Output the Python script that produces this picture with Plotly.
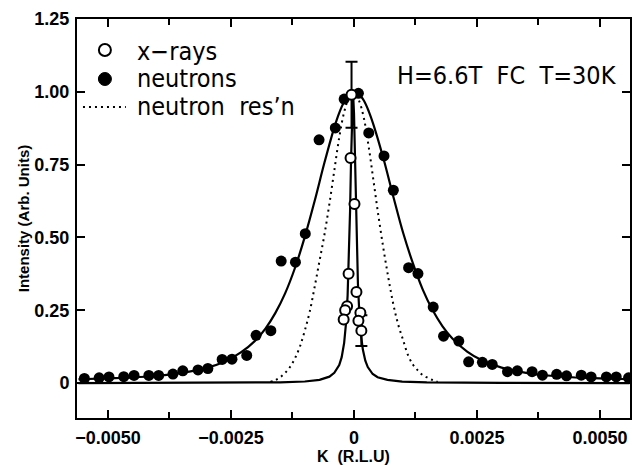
import plotly.graph_objects as go

# ---------------- data ----------------
neutron_k = [-0.00548, -0.00518, -0.00498, -0.00468, -0.00447, -0.00417, -0.00397,
             -0.00368, -0.00348, -0.00317, -0.00297, -0.00268, -0.00248, -0.00218,
             -0.00199, -0.00169, -0.00148, -0.00119, -0.00099, -0.00071, -0.00038,
             -0.00020, 0.00009, 0.00030, 0.00061, 0.00080, 0.00111, 0.00130, 0.00161,
             0.00182, 0.00213, 0.00233, 0.00261, 0.00281, 0.00312, 0.00332, 0.00362,
             0.00383, 0.00412, 0.00432, 0.00462, 0.00482, 0.00513, 0.00533, 0.00558]
neutron_i = [0.016, 0.018, 0.021, 0.022, 0.026, 0.026, 0.026,
             0.031, 0.042, 0.045, 0.050, 0.081, 0.082, 0.095,
             0.164, 0.180, 0.419, 0.415, 0.513, 0.835, 0.876,
             0.975, 0.995, 0.859, 0.780, 0.662, 0.396, 0.376, 0.261,
             0.161, 0.144, 0.073, 0.071, 0.064, 0.039, 0.042, 0.039,
             0.027, 0.030, 0.025, 0.027, 0.021, 0.021, 0.021, 0.018]

xray_k = [-0.00005, -0.00007, 0.00001, -0.00011, 0.00005, -0.00014, -0.00018,
          0.00013, -0.00021, 0.00009, 0.00015]
xray_i = [0.990, 0.773, 0.615, 0.375, 0.313, 0.264, 0.250,
          0.241, 0.218, 0.214, 0.180]
xray_err = [0.113, None, None, None, None, None, None, None, None, None, 0.053]

# neutron fit curve (solid)
nfit_k = [-0.0056, -0.0050, -0.0045, -0.0040, -0.0035, -0.0030, -0.0026, -0.0023,
          -0.0020, -0.0018, -0.0016, -0.0014, -0.0012, -0.0010, -0.0008, -0.0006,
          -0.0004, -0.0003, -0.0002, -0.0001, 0.0, 0.0001, 0.0002, 0.0003, 0.0004,
          0.0006, 0.0008, 0.0010, 0.0012, 0.0014, 0.0016, 0.0018, 0.0020, 0.0023,
          0.0026, 0.0030, 0.0035, 0.0040, 0.0045, 0.0050, 0.0056]
nfit_i = [0.013, 0.016, 0.019, 0.025, 0.035, 0.052, 0.076, 0.105,
          0.147, 0.187, 0.240, 0.308, 0.395, 0.502, 0.625, 0.757,
          0.878, 0.928, 0.966, 0.990, 0.998, 0.992, 0.970, 0.933, 0.885,
          0.770, 0.640, 0.515, 0.410, 0.320, 0.250, 0.195, 0.153, 0.108,
          0.078, 0.053, 0.035, 0.025, 0.019, 0.016, 0.013]

# x-ray fit curve (solid, very narrow)
xfit_k = [-0.0056, -0.0030, -0.0015, -0.0010, -0.0007, -0.0005, -0.0004, -0.0003,
          -0.00025, -0.0002, -0.00016, -0.00013, -0.0001, -0.00008, -0.00006,
          -0.00004, -0.00002, 0.0, 0.00002, 0.00004, 0.00006, 0.00008, 0.00011,
          0.00014, 0.00018, 0.00023, 0.00028, 0.00038, 0.00048, 0.00068, 0.00098,
          0.00148, 0.0030, 0.0056]
xfit_i = [0.0, 0.0006, 0.0024, 0.0054, 0.011, 0.022, 0.035, 0.062,
          0.089, 0.138, 0.209, 0.300, 0.447, 0.590, 0.764,
          0.928, 1.000, 0.928, 0.764, 0.590, 0.447, 0.341, 0.235,
          0.168, 0.115, 0.077, 0.055, 0.031, 0.020, 0.011, 0.005,
          0.0023, 0.0006, 0.0]

# neutron resolution (dotted)
res_k = [-0.0017, -0.0016, -0.0015, -0.0014, -0.0013, -0.0012, -0.0011, -0.0010,
         -0.0009, -0.0008, -0.0007, -0.0006, -0.0005, -0.0004, -0.0003, -0.0002,
         -0.0001, 0.0, 0.0001, 0.0002, 0.0003, 0.0004, 0.0005, 0.0006, 0.0007,
         0.0008, 0.0009, 0.0010, 0.0011, 0.0012, 0.0013, 0.0014, 0.0015, 0.0016, 0.0017]
res_i = [0.004, 0.010, 0.020, 0.035, 0.055, 0.085, 0.125, 0.180,
         0.245, 0.330, 0.420, 0.510, 0.615, 0.730, 0.843, 0.930,
         0.980, 0.995, 0.970, 0.910, 0.810, 0.690, 0.570, 0.460, 0.360,
         0.270, 0.200, 0.147, 0.095, 0.063, 0.043, 0.027, 0.018, 0.010, 0.004]

x_tickvals = [-0.005, -0.0025, 0.0, 0.0025, 0.005]
x_ticktext = ["\u22120.0050", "\u22120.0025", "0", "0.0025", "0.0050"]
x_minor = [-0.00375, -0.00125, 0.00125, 0.00375]
y_tickvals = [0.0, 0.25, 0.5, 0.75, 1.0, 1.25]
y_ticktext = ["0", "0.25", "0.50", "0.75", "1.00", "1.25"]

legend_labels = ["x\u2212rays", "neutrons", "neutron\u00a0 res\u2019n"]
condition_text = "H=6.6T\u00a0 FC\u00a0 T=30K"

# ---------------- figure ----------------
NARROW = "DejaVu Sans Condensed, Liberation Sans, sans-serif"
BOLD = "Liberation Sans, Arial, Helvetica, sans-serif"

fig = go.Figure()

fig.add_trace(go.Scatter(x=res_k, y=res_i, mode="lines", line_shape="spline",
                         line=dict(color="black", width=2, dash="2px,4px"),
                         showlegend=False, hoverinfo="skip"))
fig.add_trace(go.Scatter(x=nfit_k, y=nfit_i, mode="lines", line_shape="spline",
                         line=dict(color="black", width=2.2),
                         showlegend=False, hoverinfo="skip"))
fig.add_trace(go.Scatter(x=xfit_k, y=xfit_i, mode="lines",
                         line=dict(color="black", width=2.2),
                         showlegend=False, hoverinfo="skip"))
fig.add_trace(go.Scatter(x=neutron_k, y=neutron_i, mode="markers",
                         marker=dict(symbol="circle", size=11, color="black"),
                         showlegend=False))

ek = [k for k, e in zip(xray_k, xray_err) if e is not None]
ei = [i for i, e in zip(xray_i, xray_err) if e is not None]
ee = [e for e in xray_err if e is not None]
fig.add_trace(go.Scatter(x=ek, y=ei, mode="markers", marker=dict(size=1, opacity=0),
                         error_y=dict(type="data", array=ee, visible=True,
                                      color="black", thickness=2, width=6),
                         showlegend=False, hoverinfo="skip"))
fig.add_trace(go.Scatter(x=xray_k, y=xray_i, mode="markers",
                         marker=dict(symbol="circle", size=10, color="white",
                                     line=dict(color="black", width=2)),
                         showlegend=False))

# manual legend (symbols as shapes, text as annotations)
PL, PT, PW, PH = 77, 19, 555, 399
def px(xp):
    return (xp - PL) / PW
def py(yp):
    return (PT + PH - yp) / PH

shapes = [
    dict(type="circle", xref="paper", yref="paper", xsizemode="pixel", ysizemode="pixel",
         xanchor=px(105), yanchor=py(50), x0=-6, x1=6, y0=-6, y1=6,
         line=dict(color="black", width=2), fillcolor="white"),
    dict(type="circle", xref="paper", yref="paper", xsizemode="pixel", ysizemode="pixel",
         xanchor=px(105), yanchor=py(79), x0=-6.5, x1=6.5, y0=-6.5, y1=6.5,
         line=dict(color="black", width=1), fillcolor="black"),
    dict(type="line", xref="paper", yref="paper", x0=px(83), x1=px(126),
         y0=py(107), y1=py(107), line=dict(color="black", width=2, dash="2px,4px")),
]
annotations = []
for lab, yc in zip(legend_labels, [51, 78.5, 106]):
    annotations.append(dict(text=lab, xref="paper", yref="paper", x=px(135), y=py(yc),
                            xanchor="left", yanchor="middle", showarrow=False,
                            font=dict(family=NARROW, size=25, color="black")))
annotations.append(dict(text=condition_text, xref="paper", yref="paper", x=px(396),
                        y=py(75.5), xanchor="left", yanchor="middle", showarrow=False,
                        font=dict(family=NARROW, size=25, color="black")))

fig.update_layout(
    width=632, height=465,
    margin=dict(l=PL, r=0, t=PT, b=465 - PT - PH, pad=0),
    paper_bgcolor="white", plot_bgcolor="white",
    shapes=shapes, annotations=annotations,
    showlegend=False,
    font=dict(family=BOLD, color="black"),
)
fig.update_xaxes(
    range=[-0.00563, 0.00561], tickvals=x_tickvals, ticktext=x_ticktext,
    ticks="inside", ticklen=8, tickwidth=2, tickcolor="black",
    minor=dict(tickvals=x_minor, ticks="inside", ticklen=6, tickwidth=2, tickcolor="black"),
    showline=True, linewidth=2, linecolor="black", mirror="ticks",
    showgrid=False, zeroline=False,
    tickfont=dict(family=BOLD, size=18, weight="bold"),
    ticklabelstandoff=2,
    title=dict(text="K\u00a0 (R.L.U)", font=dict(family=BOLD, size=16, weight="bold"),
               standoff=4),
)
fig.update_yaxes(
    range=[-0.12, 1.25], tickvals=y_tickvals, ticktext=y_ticktext,
    ticks="inside", ticklen=8, tickwidth=2, tickcolor="black",
    showline=True, linewidth=2, linecolor="black", mirror="ticks",
    showgrid=False, zeroline=False,
    tickfont=dict(family=BOLD, size=18, weight="bold"),
    ticklabelstandoff=2,
    title=dict(text="Intensity (Arb. Units)", font=dict(family=BOLD, size=15, weight="bold"),
               standoff=1),
)

fig.write_html("out.html", config={"displayModeBar": False},
               post_script="document.body.style.margin='0';document.body.style.overflow='hidden';")
